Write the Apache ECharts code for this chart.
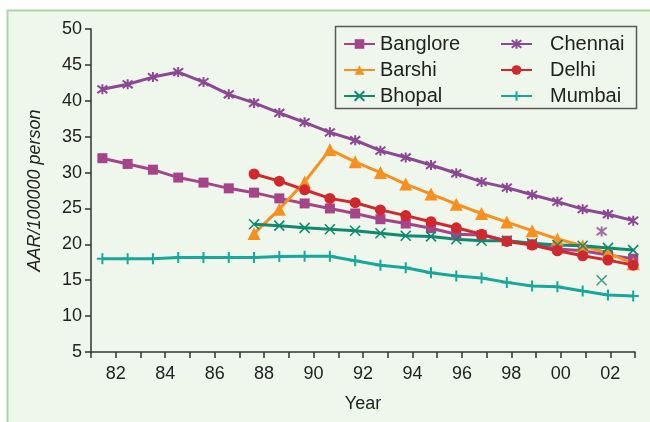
<!DOCTYPE html>
<html>
<head>
<meta charset="utf-8">
<script src="https://cdn.jsdelivr.net/npm/echarts@6/dist/echarts.min.js"></script>
<style>
html,body{margin:0;padding:0;background:#ffffff;}
#chart{width:650px;height:422px;}
</style>
</head>
<body>
<div id="chart"></div>
<script>
// ---- data ----
var years = [1982,1983,1984,1985,1986,1987,1988,1989,1990,1991,1992,1993,1994,1995,1996,1997,1998,1999,2000,2001,2002,2003];
var banglore = [32.0,31.2,30.4,29.3,28.6,27.8,27.2,26.4,25.7,25.0,24.3,23.5,22.9,22.25,21.4,21.3,20.5,20.0,19.35,19.1,18.5,18.0];
var barshi   = [null,null,null,null,null,null,21.5,24.9,28.7,33.2,31.5,30.0,28.4,27.0,25.6,24.3,23.1,21.9,20.75,19.8,18.8,17.3];
var bhopal   = [null,null,null,null,null,null,22.8,22.6,22.3,22.1,21.9,21.55,21.2,21.1,20.7,20.5,20.5,20.15,19.9,19.8,19.5,19.2];
var chennai  = [41.6,42.3,43.3,44.0,42.6,40.9,39.7,38.3,37.0,35.6,34.5,33.05,32.1,31.05,29.9,28.7,27.9,26.9,25.95,24.9,24.2,23.3];
var delhi    = [null,null,null,null,null,null,29.8,28.8,27.6,26.4,25.8,24.8,24.0,23.15,22.3,21.4,20.4,19.9,19.1,18.4,17.8,17.1];
var mumbai   = [18.0,18.0,18.0,18.15,18.15,18.15,18.15,18.3,18.35,18.35,17.7,17.1,16.75,16.05,15.6,15.3,14.7,14.2,14.1,13.5,12.95,12.8];
// separate unconnected markers
var chennaiExtra = [[2001.75, 21.8]];
var bhopalExtra  = [[2001.75, 15.0]];
var seriesNames = ['Banglore','Barshi','Bhopal','Chennai','Delhi','Mumbai'];
var yTicks = {min:5, max:50, step:5};
var xTicks = {min:81, max:103, step:1};

// ---- styling ----
var FONT = 'Liberation Sans, Arial, Helvetica, sans-serif';
var colors = {
  Banglore:'#a6448a', Barshi:'#f7901e', Bhopal:'#108a6e',
  Chennai:'#8c4895', Delhi:'#d1282e', Mumbai:'#17a89b'
};
var xPath = 'path://M0,0L10,10M10,0L0,10';
var starPath = 'path://M0,0L10,10M10,0L0,10M5,-1.5L5,11.5';
var plusPath = 'path://M5,0L5,10M0,5L10,5';

function pairs(arr){
  var out=[];
  for(var i=0;i<years.length;i++){ if(arr[i]!==null) out.push([years[i],arr[i]]); }
  return out;
}
function lineSeries(name, arr, symbol, size, stroke){
  var c = colors[name];
  return {
    name:name, type:'line', xAxisIndex:1, data:pairs(arr),
    symbol:symbol, symbolSize:size,
    lineStyle:{color:c, width:3},
    itemStyle:{color:c, borderColor:c, borderWidth:stroke||0},
    emphasis:{disabled:true}
  };
}

var chart = echarts.init(document.getElementById('chart'), null, {renderer:'canvas'});
chart.setOption({
  animation:false,
  backgroundColor:'#ffffff',
  textStyle:{fontFamily:FONT},
  graphic:[
    {type:'rect', z:-10, shape:{x:7.5,y:10.5,width:700,height:500},
     style:{fill:'#eff6ec', stroke:'#a7d7a6', lineWidth:2}},
    {type:'rect', z:-5, shape:{x:335.5,y:26.5,width:301,height:82},
     style:{fill:'rgba(0,0,0,0)', stroke:'#5a5a5a', lineWidth:1.5}}
  ],
  grid:{left:91, right:15, top:29, bottom:70},
  legend:[
    {data:['Banglore','Barshi','Bhopal'], orient:'vertical', left:338, top:29,
     itemWidth:31, itemHeight:12, itemGap:6,
     textStyle:{fontFamily:FONT, fontSize:20, color:'#222', padding:[0,0,0,0]}},
    {data:['Chennai','Delhi','Mumbai'], orient:'vertical', left:495, top:29,
     itemWidth:31, itemHeight:12, itemGap:6,
     textStyle:{fontFamily:FONT, fontSize:20, color:'#222', padding:[0,0,0,13]}}
  ],
  xAxis:[
    {type:'value', min:xTicks.min, max:xTicks.max, interval:xTicks.step,
     name:'Year', nameLocation:'middle', nameGap:43,
     nameTextStyle:{fontFamily:FONT, fontSize:18, color:'#222'},
     axisLine:{show:true, onZero:false, lineStyle:{color:'#333', width:1.5}},
     axisTick:{show:true, length:6, inside:false, lineStyle:{color:'#333', width:1.5}},
     axisLabel:{fontFamily:FONT, fontSize:18, color:'#222', margin:13,
       formatter:function(v){ if(v%2!==0) return ''; var y=v%100; return (y<10?'0':'')+y; }},
     splitLine:{show:false}},
    {type:'value', min:1981.55, max:2003.07, show:false,
     axisLine:{show:false}, axisTick:{show:false}, axisLabel:{show:false}, splitLine:{show:false}}
  ],
  yAxis:{type:'value', min:yTicks.min, max:yTicks.max, interval:yTicks.step,
    name:'AAR/100000 person', nameLocation:'middle', nameGap:47, nameRotate:90,
    nameTextStyle:{fontFamily:FONT, fontSize:18, color:'#222', fontStyle:'italic'},
    axisLine:{show:true, lineStyle:{color:'#333', width:1.5}},
    axisTick:{show:true, length:6, lineStyle:{color:'#333', width:1.5}},
    axisLabel:{fontFamily:FONT, fontSize:18, color:'#222', margin:9},
    splitLine:{show:false}},
  series:[
    lineSeries('Banglore', banglore, 'rect', 10),
    lineSeries('Barshi', barshi, 'triangle', 13),
    lineSeries('Bhopal', bhopal, xPath, 10, 1.6),
    lineSeries('Chennai', chennai, starPath, 10, 2),
    lineSeries('Delhi', delhi, 'circle', 11),
    lineSeries('Mumbai', mumbai, plusPath, 11, 2),
    {name:'Chennai', type:'scatter', xAxisIndex:1, data:chennaiExtra, symbol:starPath, symbolSize:10,
     itemStyle:{color:colors.Chennai, borderColor:colors.Chennai, borderWidth:2}},
    {name:'Bhopal', type:'scatter', xAxisIndex:1, data:bhopalExtra, symbol:xPath, symbolSize:10,
     itemStyle:{color:colors.Bhopal, borderColor:colors.Bhopal, borderWidth:1.6}}
  ]
});
</script>
</body>
</html>
